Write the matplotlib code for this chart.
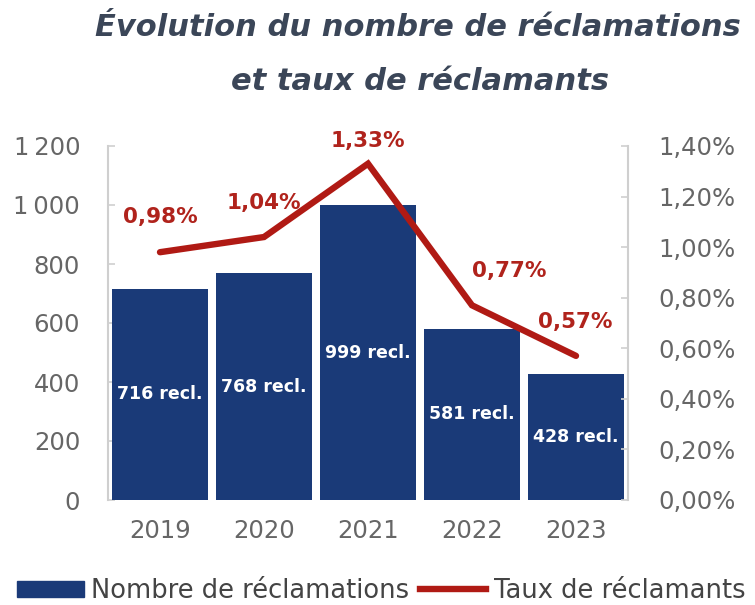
import matplotlib
matplotlib.use("Agg")
import matplotlib.pyplot as plt
from matplotlib.patches import Patch
from matplotlib.lines import Line2D

years = ["2019", "2020", "2021", "2022", "2023"]
reclamations = [716, 768, 999, 581, 428]
taux = [0.98, 1.04, 1.33, 0.77, 0.57]
left_ticks = [0, 200, 400, 600, 800, 1000, 1200]
right_ticks = [0.0, 0.2, 0.4, 0.6, 0.8, 1.0, 1.2, 1.4]

BLUE = "#1a3a78"
RED = "#b01a14"
LABEL_RED = "#b0231c"
GRAY = "#666666"
SPINE = "#cfcfcf"
FONT = ["DejaVu Sans"]

plt.rcParams["font.family"] = FONT

fig = plt.figure(figsize=(7.55, 6.05), dpi=100)
ax = fig.add_axes([108/755, 1-500/605, 520/755, 354/605])
ax2 = ax.twinx()

x = list(range(len(years)))
ax.bar(x, reclamations, width=0.92, color=BLUE, zorder=2)
ax.set_xlim(-0.5, 4.5)
ax.set_ylim(0, 1200)
ax.set_yticks(left_ticks)
ax.set_yticklabels([f"{v:,}".replace(",", "\u2009") if v >= 1000 else str(v) for v in left_ticks])
ax.set_xticks(x)
ax.set_xticklabels(years)

for xi, v in zip(x, reclamations):
    ax.text(xi, v/2, f"{v} recl.", ha="center", va="center", color="white",
            fontsize=12.5, fontweight="bold", zorder=5)

ax2.plot(x, taux, color=RED, linewidth=4.6, solid_capstyle="round", solid_joinstyle="miter", zorder=4)
ax2.set_ylim(0, 1.4)
ax2.set_yticks(right_ticks)
ax2.set_yticklabels([f"{v:.2f}%".replace(".", ",") for v in right_ticks])

offsets = [(0, 35), (0, 34), (0, 23), (37, 34), (-1, 34)]
for xi, v, (dx, dy) in zip(x, taux, offsets):
    ax2.annotate(f"{v:.2f}%".replace(".", ","), (xi, v), xytext=(dx*0.72, dy*0.72),
                 textcoords="offset points", ha="center", va="center",
                 color=LABEL_RED, fontsize=15.5, fontweight="bold")

for a in (ax, ax2):
    for s in ("top", "bottom"):
        a.spines[s].set_visible(False)
    a.tick_params(axis="y", direction="in", length=5, width=1.2, color=SPINE,
                  labelcolor=GRAY, labelsize=17.5, pad=20)
ax.spines["left"].set_color(SPINE)
ax.spines["left"].set_linewidth(1.5)
ax.spines["right"].set_visible(False)
ax2.spines["left"].set_visible(False)
ax2.spines["right"].set_color(SPINE)
ax2.spines["right"].set_linewidth(1.5)
ax2.tick_params(axis="y", pad=22)
ax.tick_params(axis="x", length=0, labelcolor=GRAY, labelsize=17.5, pad=14)

fig.text(0.554, 1-27/605, "Évolution du nombre de réclamations", ha="center", va="center",
         fontsize=22, fontweight="bold", fontstyle="italic", color="#3b4658")
fig.text(0.556, 1-81/605, "et taux de réclamants", ha="center", va="center",
         fontsize=22, fontweight="bold", fontstyle="italic", color="#3b4658")

handles = [Patch(facecolor=BLUE, edgecolor=BLUE),
           Line2D([0], [0], color=RED, linewidth=4.6)]
fig.legend(handles, ["Nombre de réclamations", "Taux de réclamants"],
           loc="center", bbox_to_anchor=(0.505, 1-591/605), ncol=2, frameon=False,
           prop={"size": 18.5},
           handlelength=2.6, handleheight=0.6, handletextpad=0.3,
           columnspacing=0.4, labelcolor="#444444")

fig.savefig("out.png", dpi=100)
